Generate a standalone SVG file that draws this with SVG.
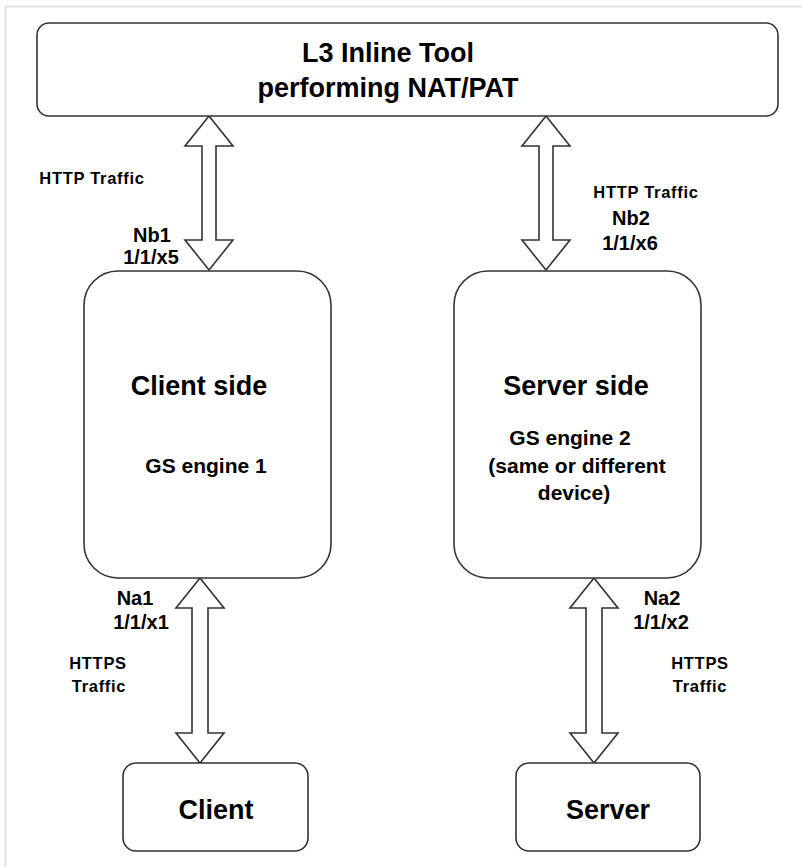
<svg xmlns="http://www.w3.org/2000/svg" width="802" height="867" viewBox="0 0 802 867">
<style>
.box{fill:#fff;stroke:#333;stroke-width:1.6}
.arr{fill:#fff;stroke:#333;stroke-width:1.6;stroke-linejoin:miter}
text{font-family:"Liberation Sans",Arial,sans-serif;font-weight:bold;fill:#000;text-anchor:middle}
.t1{font-size:27px}
.t2{font-size:27px}
.t3{font-size:20px}
.t4{font-size:16.5px;letter-spacing:0.7px}
.t5{font-size:21px}
</style>
<rect x="0" y="0" width="802" height="867" fill="#fff"/>
<path d="M5.5 867 V6.5 H802" fill="none" stroke="#e2e2e2" stroke-width="2"/>
<g id="connectors">
<path class="arr" d="M209 116 L233 146 L216 146 L216 240 L233 240 L209 270 L185 240 L202 240 L202 146 L185 146 Z"/>
<path class="arr" d="M546 116 L570 146 L553 146 L553 240 L570 240 L546 270 L522 240 L539 240 L539 146 L522 146 Z"/>
<path class="arr" d="M200 578 L224 608 L208 608 L208 733 L224 733 L200 763 L176 733 L192 733 L192 608 L176 608 Z"/>
<path class="arr" d="M594 578 L618 608 L602 608 L602 733 L618 733 L594 763 L570 733 L586 733 L586 608 L570 608 Z"/>
</g>
<g id="l3tool">
<rect class="box" x="37" y="23" width="741" height="93" rx="12"/>
<text class="t1" x="388" y="62">L3 Inline Tool</text>
<text class="t1" x="388" y="97">performing NAT/PAT</text>
</g>
<g id="clientside">
<rect class="box" x="84" y="271" width="247" height="307" rx="34"/>
<text class="t2" x="199" y="395">Client side</text>
<text class="t5" x="206" y="473">GS engine 1</text>
</g>
<g id="serverside">
<rect class="box" x="454" y="271" width="247" height="307" rx="34"/>
<text class="t2" x="576" y="395">Server side</text>
<text class="t5" x="570" y="445">GS engine 2</text>
<text class="t5" x="577" y="473">(same or different</text>
<text class="t5" x="574" y="500">device)</text>
</g>
<g id="client">
<rect class="box" x="123" y="763" width="185" height="88" rx="13"/>
<text class="t2" x="216" y="819">Client</text>
</g>
<g id="server">
<rect class="box" x="516" y="763" width="184" height="88" rx="13"/>
<text class="t2" x="608" y="819">Server</text>
</g>
<g id="labels">
<text class="t4" x="92" y="184">HTTP Traffic</text>
<text class="t3" x="152" y="242">Nb1</text>
<text class="t3" x="151" y="264">1/1/x5</text>
<text class="t4" x="646" y="198">HTTP Traffic</text>
<text class="t3" x="631" y="225">Nb2</text>
<text class="t3" x="630" y="250">1/1/x6</text>
<text class="t3" x="135" y="605">Na1</text>
<text class="t3" x="141" y="629">1/1/x1</text>
<text class="t4" x="98" y="669">HTTPS</text>
<text class="t4" x="99" y="692">Traffic</text>
<text class="t3" x="662" y="605">Na2</text>
<text class="t3" x="661" y="629">1/1/x2</text>
<text class="t4" x="700" y="669">HTTPS</text>
<text class="t4" x="700" y="692">Traffic</text>
</g>
</svg>
